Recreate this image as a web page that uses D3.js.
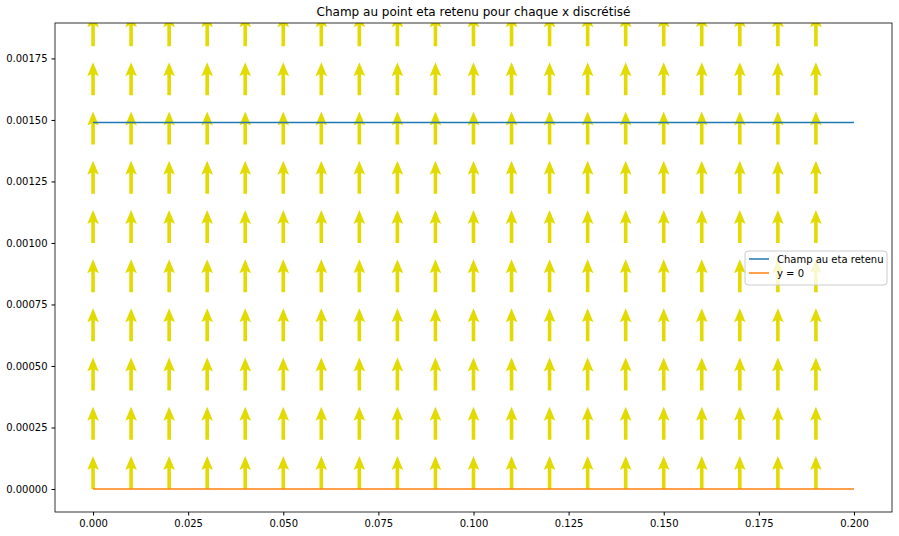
<!DOCTYPE html>
<html><head><meta charset="utf-8">
<script src="https://cdn.jsdelivr.net/npm/d3@7"></script>
<style>body{margin:0;background:#fff;font-family:"DejaVu Sans",sans-serif;}</style>
</head><body><svg id="c" width="899" height="536"></svg>
<script>
// quiver grid (arrows pointing up, same length)
var arrowX = d3.range(0, 20).map(function(i){ return i * 0.01; });
var arrowY = [0, 0.0002, 0.0004, 0.0006, 0.0008, 0.001, 0.0012, 0.0014, 0.0016, 0.0018];
var lineX = [0, 0.2];
var champ = [0.00149, 0.00149];
var zero = [0, 0];
var xTicks = [0, 0.025, 0.05, 0.075, 0.1, 0.125, 0.15, 0.175, 0.2];
var yTicks = [0, 0.00025, 0.0005, 0.00075, 0.001, 0.00125, 0.0015, 0.00175];

var svg = d3.select("#c");
var L = 55, R = 892, T = 23, B = 512;
var x = d3.scaleLinear().domain([-0.01, 0.21]).range([L, R]);
var y = d3.scaleLinear().domain([-0.0000935, 0.001894]).range([B, T]);

svg.append("text").attr("x", (L+R)/2).attr("y", 16).attr("text-anchor","middle")
  .attr("font-size", 12).text("Champ au point eta retenu pour chaque x discrétisé");

svg.append("clipPath").attr("id","clip").append("rect")
  .attr("x",L).attr("y",T).attr("width",R-L).attr("height",B-T);
var g = svg.append("g").attr("clip-path","url(#clip)");

var pts = [];
arrowY.forEach(function(yy){ arrowX.forEach(function(xx){ pts.push([xx,yy]); }); });
var len = 33, hl = 14, hw = 5.8, sw = 1.8;
g.selectAll("path.arr").data(pts).join("path").attr("class","arr")
  .attr("d", function(d){
    var cx = x(d[0]), by = y(d[1]), ty = by - len;
    return "M"+(cx-sw)+","+by+"L"+(cx-sw)+","+(ty+hl-2)+"L"+(cx-hw)+","+(ty+hl)+
      "L"+cx+","+ty+"L"+(cx+hw)+","+(ty+hl)+"L"+(cx+sw)+","+(ty+hl-2)+"L"+(cx+sw)+","+by+"Z";
  })
  .attr("fill","#e2da00");

var line = d3.line().x(function(d){return x(d[0]);}).y(function(d){return y(d[1]);});
g.append("path").attr("d", line(d3.zip(lineX, champ))).attr("stroke","#1f77b4").attr("stroke-width",1.5).attr("fill","none");
g.append("path").attr("d", line(d3.zip(lineX, zero))).attr("stroke","#ff7f0e").attr("stroke-width",1.5).attr("fill","none");

svg.append("g").attr("transform","translate(0,"+B+")")
  .call(d3.axisBottom(x).tickValues(xTicks).tickFormat(d3.format(".3f")).tickSizeOuter(0).tickSize(3.5).tickPadding(4))
  .call(function(a){a.select(".domain").remove(); a.selectAll("text").attr("font-size",10).attr("font-family","DejaVu Sans");});
svg.append("g").attr("transform","translate("+L+",0)")
  .call(d3.axisLeft(y).tickValues(yTicks).tickFormat(d3.format(".5f")).tickSizeOuter(0).tickSize(3.5).tickPadding(4))
  .call(function(a){a.select(".domain").remove(); a.selectAll("text").attr("font-size",10).attr("font-family","DejaVu Sans");});
svg.append("rect").attr("x",L).attr("y",T).attr("width",R-L).attr("height",B-T)
  .attr("fill","none").attr("stroke","#000").attr("stroke-width",0.8);

var leg = svg.append("g").attr("transform","translate(745,251)");
leg.append("rect").attr("width",142).attr("height",34).attr("rx",3)
  .attr("fill","rgba(255,255,255,0.8)").attr("stroke","#ccc");
[["Champ au eta retenu","#1f77b4"],["y = 0","#ff7f0e"]].forEach(function(d,i){
  leg.append("line").attr("x1",4).attr("x2",24).attr("y1",8+i*14).attr("y2",8+i*14).attr("stroke",d[1]).attr("stroke-width",1.5);
  leg.append("text").attr("x",32).attr("y",12+i*14).attr("font-size",10).text(d[0]);
});
</script></body></html>
